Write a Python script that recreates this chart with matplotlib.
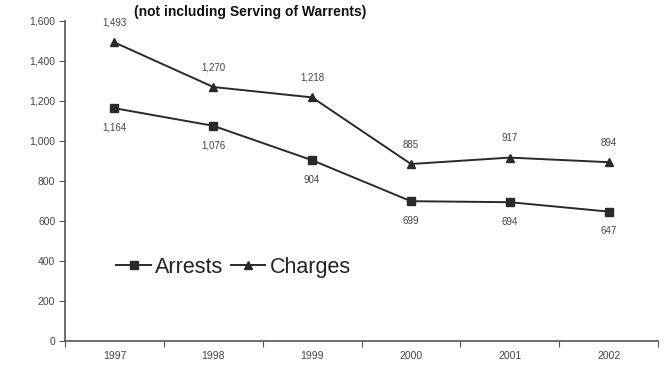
import matplotlib
matplotlib.use("Agg")
import matplotlib.pyplot as plt
from matplotlib.ticker import FuncFormatter, FixedLocator

years = ["1997", "1998", "1999", "2000", "2001", "2002"]
arrests = [1164, 1076, 904, 699, 694, 647]
charges = [1493, 1270, 1218, 885, 917, 894]
y_ticks = [0, 200, 400, 600, 800, 1000, 1200, 1400, 1600]

plt.rcParams["font.family"] = ["Liberation Sans", "DejaVu Sans"]

fig = plt.figure(figsize=(6.68, 3.68), dpi=100)
ax = fig.add_axes([65 / 668, 27 / 368, 593 / 668, 320 / 368])

x = list(range(len(years)))
line_col = "#2a2a2a"
ax.plot(x, arrests, color=line_col, lw=1.4, marker="s", ms=5.5,
        label="Arrests")
ax.plot(x, charges, color=line_col, lw=1.4, marker="^", ms=5.5,
        label="Charges")

for xi, v in zip(x, arrests):
    ax.annotate(f"{v:,}", (xi, v), xytext=(0, -14), textcoords="offset points",
                ha="center", va="center", fontsize=7, color="#444444")
for xi, v in zip(x, charges):
    ax.annotate(f"{v:,}", (xi, v), xytext=(0, 14), textcoords="offset points",
                ha="center", va="center", fontsize=7, color="#444444")

ax.set_xlim(-0.5, len(years) - 0.5)
ax.set_ylim(0, 1600)
ax.yaxis.set_major_locator(FixedLocator(y_ticks))
ax.yaxis.set_major_formatter(FuncFormatter(lambda v, p: f"{int(v):,}"))

# category labels centred, tick marks on the boundaries
ax.set_xticks([i - 0.5 for i in range(len(years) + 1)])
ax.set_xticklabels([])
ax.set_xticks(x, minor=True)
ax.set_xticklabels(years, minor=True)
ax.tick_params(axis="x", which="minor", length=0, pad=7, labelsize=7.5,
               labelcolor="#444444")
ax.tick_params(axis="x", which="major", length=4, color="#555555")
ax.tick_params(axis="y", length=4, color="#555555", labelsize=7.5,
               labelcolor="#444444", pad=3)

for s in ("top", "right"):
    ax.spines[s].set_visible(False)
for s in ("left", "bottom"):
    ax.spines[s].set_color("#555555")
    ax.spines[s].set_linewidth(1.2)

leg = ax.legend(loc="center left", bbox_to_anchor=(0.054, 0.23), ncol=2,
                frameon=False, fontsize=15.5, handlelength=1.6,
                handletextpad=0.2, columnspacing=0.35, markerscale=1.0,
                labelcolor="#222222")

fig.text(250 / 668, 1 - 12 / 368, "(not including Serving of Warrents)",
         ha="center", va="center", fontsize=10, fontweight="bold",
         color="#111111")

fig.savefig("out.png", dpi=100)
